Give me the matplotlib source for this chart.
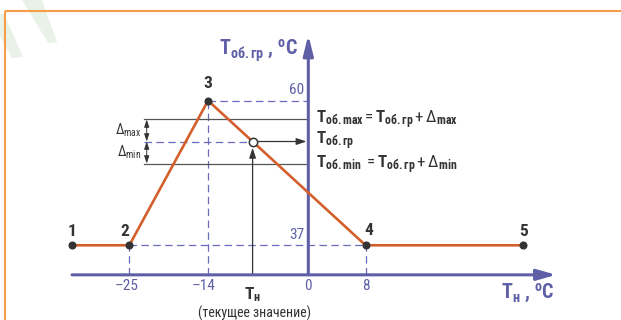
import numpy as np
import matplotlib
matplotlib.use("Agg")
import matplotlib.pyplot as plt
from matplotlib.patches import Polygon

FONT = 'Roboto Condensed'
plt.rcParams['font.family'] = [FONT, 'DejaVu Sans']
plt.rcParams['mathtext.fontset'] = 'custom'
plt.rcParams['mathtext.rm'] = FONT
plt.rcParams['mathtext.bf'] = FONT + ':bold'
plt.rcParams['mathtext.it'] = FONT + ':italic'

# characteristic points: outdoor temp Tн -> return water temp limit Tоб.гр
tn = [-33, -25, -14, 8, 30]
tob = [37, 37, 60, 37, 37]
point_labels = ['1', '2', '3', '4', '5']
x_ticks = [-25, -14, 0, 8]
y_ticks = [37, 60]
t_gr = 53.5        # current limit value
t_max = 57.0       # Tоб.гр + Δmax
t_min = 50.0       # Tоб.гр - Δmin
axis_y = 32.3      # level where the Tн axis is drawn

blue = '#5f5fa8'
dash_blue = '#6c6cbc'
orange = '#d35f2c'
dark = '#333333'
gray = '#555555'

fig = plt.figure(figsize=(6.21, 3.2), dpi=100)
ax = fig.add_axes([0, 0, 1, 1])
ax.set_xlim(-43.06, 43.67)
ax.set_ylim(25.12, 76.0)
ax.axis('off')

# faint watermark + orange frame (figure pixels -> axes fraction)
W, H = 621.0, 320.0
def px(pts):
    return [(x / W, 1 - y / H) for x, y in pts]
for poly in ([(22, 0), (42, 0), (57, 42), (48, 43)],
             [(0, 14), (4, 14), (23, 57), (12, 58), (0, 36)]):
    ax.add_patch(Polygon(px(poly), closed=True, transform=ax.transAxes,
                         facecolor='#e8f2e6', edgecolor='none', zorder=0))
ax.plot([5 / W, 1], [1 - 10.5 / H] * 2, transform=ax.transAxes,
        color='#f89d47', lw=1.5, solid_capstyle='butt')
ax.plot([5 / W] * 2, [1 - 10.5 / H, 0], transform=ax.transAxes,
        color='#f89d47', lw=1.5, solid_capstyle='butt')

dash = dict(color=dash_blue, lw=0.9, dashes=(6, 3.5))

# dashed guides
ax.plot([tn[1], tn[3]], [tob[1], tob[3]], **dash)
ax.plot([tn[2], 0], [tob[2], tob[2]], **dash)
for i in (1, 2, 3):
    ax.plot([tn[i], tn[i]], [axis_y, tob[i]], **dash)

# current point on the 3-4 slope
x_cur = np.interp(t_gr, [tob[3], tob[2]], [tn[3], tn[2]])
x_left = -22.9
ax.plot([x_left, 0], [t_max, t_max], color=gray, lw=0.9)
ax.plot([x_left, 0], [t_min, t_min], color=gray, lw=0.9)
ax.plot([x_left, x_cur], [t_gr, t_gr], **dash)
ax.annotate('', xy=(-0.25, t_gr), xytext=(x_cur, t_gr),
            arrowprops=dict(arrowstyle='-|>,head_length=0.6,head_width=0.2',
                            color=dark, lw=0.9, shrinkA=0, shrinkB=0))
ax.annotate('', xy=(x_cur, t_gr - 1.0), xytext=(x_cur, axis_y),
            arrowprops=dict(arrowstyle='-|>,head_length=0.6,head_width=0.2',
                            color=dark, lw=0.9, shrinkA=0, shrinkB=0))
x_dim = -22.57
for a, b in ((t_max, t_gr), (t_gr, t_min)):
    ax.annotate('', xy=(x_dim, a), xytext=(x_dim, b),
                arrowprops=dict(arrowstyle='<|-|>,head_length=0.45,head_width=0.15',
                                color=dark, lw=0.7, shrinkA=0, shrinkB=0))
ax.text(-23.3, (t_max + t_gr) / 2, r'$\Delta_{\mathrm{max}}$', ha='right',
        va='center', fontsize=10, color=dark)
ax.text(-23.3, (t_gr + t_min) / 2, r'$\Delta_{\mathrm{min}}$', ha='right',
        va='center', fontsize=10, color=dark)

# axes with arrows
ax.annotate('', xy=(34.6, axis_y), xytext=(tn[0], axis_y),
            arrowprops=dict(arrowstyle='-|>,head_length=1.15,head_width=0.33',
                            color=blue, lw=2.2, shrinkA=0, shrinkB=0))
ax.annotate('', xy=(0, 70.45), xytext=(0, axis_y),
            arrowprops=dict(arrowstyle='-|>,head_length=1.2,head_width=0.3',
                            color=blue, lw=2.2, shrinkA=0, shrinkB=0))

# characteristic line
ax.plot(tn, tob, color=orange, lw=1.9, zorder=3)
ax.plot(tn, tob, 'o', color=dark, ms=4.8, zorder=4)
ax.plot([x_cur], [t_gr], 'o', mfc='white', mec=dark, mew=1.1, ms=6, zorder=5)

offsets = [(0, 13.5), (-4, 13.5), (0, 17.5), (3, 15), (0, 13.5)]
for x, y, lbl, off in zip(tn, tob, point_labels, offsets):
    ax.annotate(lbl, (x, y), xytext=off, textcoords='offset pixels',
                ha='center', va='center', fontsize=12.5, fontweight='bold', color=dark)

tick_shift = {-25: -3, -14: -4, 0: 0, 8: 0}
for t in x_ticks:
    lbl = str(t).replace('-', '\u2013')
    ax.annotate(lbl, (t, axis_y), xytext=(tick_shift[t], -11.5),
                textcoords='offset pixels', ha='center', va='center',
                fontsize=11, color=blue)
for t in y_ticks:
    ax.annotate(str(t), (0, t), xytext=(-4, 10.5), textcoords='offset pixels',
                ha='right', va='center', fontsize=11, color=blue)

# axis titles
ax.text(34.36, 28.57, r'$\mathbf{T}_{\mathbf{н}}$ , $^{\mathbf{o}}\mathbf{C}$',
        ha='right', va='baseline', fontsize=14.5, fontweight='bold', color=blue)
ax.text(-1.44, 67.25, r'$\mathbf{T}_{\mathbf{об.гр}}$ , $^{\mathbf{o}}\mathbf{C}$',
        ha='right', va='baseline', fontsize=14.5, fontweight='bold', color=blue)

ax.annotate(r'$\mathbf{T}_{\mathbf{н}}$', (x_cur, axis_y), xytext=(0, -20),
            textcoords='offset pixels', ha='center', va='center',
            fontsize=12.5, color=dark)
ax.annotate('(текущее значение)', (x_cur, axis_y), xytext=(2, -38),
            textcoords='offset pixels', ha='center', va='center',
            fontsize=10, color=dark)

# formulas at the right of the Tоб axis
formulas = [
    (t_max, -4.0, r'$\mathbf{T}_{\mathbf{об.max}}=\mathbf{T}_{\mathbf{об.гр}}+\Delta_{\mathbf{max}}$'),
    (t_gr, -2.8, r'$\mathbf{T}_{\mathbf{об.гр}}$'),
    (t_min, -4.6, r'$\mathbf{T}_{\mathbf{об.min}}\ =\mathbf{T}_{\mathbf{об.гр}}+\Delta_{\mathbf{min}}$'),
]
for y, dy, s in formulas:
    ax.annotate(s, (0, y), xytext=(7.7, dy), textcoords='offset pixels',
                ha='left', va='baseline', fontsize=12.2, color=dark)

fig.savefig('out.png', dpi=100)
